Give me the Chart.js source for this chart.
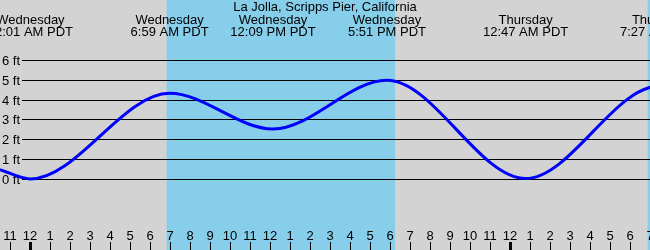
<!DOCTYPE html>
<html>
<head>
<meta charset="utf-8">
<script src="https://cdn.jsdelivr.net/npm/chart.js@4"></script>
<style>
  html, body { margin: 0; padding: 0; background: #d3d3d3; }
  #wrap { width: 650px; height: 250px; position: relative; }
</style>
</head>
<body>
<div id="wrap"><canvas id="tideChart"></canvas></div>
<script>
// hours from Wednesday 12 AM; first value is the level at the left edge, the rest are the highs and lows
// (last one is the Thursday afternoon low, just past the right edge)
const tideHours = [-1.5, 0.02, 6.98, 12.15, 17.85, 24.78, 31.45, 37.6];
const tideFeet  = [0.50, 0.03, 4.34, 2.54, 5.0, 0.05, 4.7, 2.7];

const eventDays  = ['Wednesday', 'Wednesday', 'Wednesday', 'Wednesday', 'Thursday', 'Thursday'];
const eventTimes = ['12:01 AM PDT', '6:59 AM PDT', '12:09 PM PDT', '5:51 PM PDT', '12:47 AM PDT', '7:27 AM PDT'];
const eventHours = [0.02, 6.98, 12.15, 17.85, 24.78, 31.45];

const daylightStart = [6.83, 30.88];
const daylightEnd   = [18.25, 42];

const feetTicks  = [0, 1, 2, 3, 4, 5, 6];
const feetLabels = ['0 ft', '1 ft', '2 ft', '3 ft', '4 ft', '5 ft', '6 ft'];

const hourTicks  = [-1, 0, 1, 2, 3, 4, 5, 6, 7, 8, 9, 10, 11, 12, 13, 14, 15, 16, 17, 18, 19, 20, 21, 22, 23, 24, 25, 26, 27, 28, 29, 30, 31];
const hourLabels = ['11', '12', '1', '2', '3', '4', '5', '6', '7', '8', '9', '10', '11', '12', '1', '2', '3', '4', '5', '6', '7', '8', '9', '10', '11', '12', '1', '2', '3', '4', '5', '6', '7'];
const midnightHours = [0, 24];

const title = 'La Jolla, Scripps Pier, California';
const FONT = '13px "Liberation Sans", Arial, sans-serif';

const tidePlugin = {
    id: 'tideDecor',
    beforeDatasetsDraw(chart) {
        const ctx = chart.ctx;
        const area = chart.chartArea;
        const xs = chart.scales.x;
        const ys = chart.scales.y;
        ctx.save();
        ctx.fillStyle = '#d3d3d3';
        ctx.fillRect(area.left, area.top, area.right - area.left, area.bottom - area.top);

        ctx.fillStyle = '#87ceeb';
        daylightStart.forEach((start, i) => {
            const x1 = Math.max(area.left, xs.getPixelForValue(start));
            const x2 = Math.min(area.right, xs.getPixelForValue(daylightEnd[i]));
            ctx.fillRect(x1, area.top, x2 - x1, area.bottom - area.top);
        });

        ctx.strokeStyle = '#000000';
        ctx.lineWidth = 1;
        ctx.fillStyle = '#000000';
        ctx.font = FONT;
        ctx.textAlign = 'left';
        ctx.textBaseline = 'alphabetic';
        feetTicks.forEach((v, i) => {
            const y = Math.floor(ys.getPixelForValue(v)) + 0.5;
            ctx.beginPath();
            ctx.moveTo(22, y);
            ctx.lineTo(area.right, y);
            ctx.stroke();
            ctx.fillText(feetLabels[i], 2, y + 4.5);
        });
        ctx.restore();
    },
    afterDatasetsDraw(chart) {
        const ctx = chart.ctx;
        const area = chart.chartArea;
        const xs = chart.scales.x;
        ctx.save();
        ctx.fillStyle = '#000000';
        ctx.font = FONT;
        ctx.textAlign = 'center';
        ctx.textBaseline = 'alphabetic';

        ctx.fillText(title, (area.left + area.right) / 2, 11);

        eventHours.forEach((h, i) => {
            const x = xs.getPixelForValue(h);
            ctx.fillText(eventDays[i], x, 24);
            ctx.fillText(eventTimes[i], x, 36);
        });

        hourTicks.forEach((h, i) => {
            const x = Math.round(xs.getPixelForValue(h));
            ctx.fillText(hourLabels[i], x, 240);
            if (midnightHours.includes(h)) {
                ctx.fillRect(x - 1, 242, 3, 8);
            } else {
                ctx.fillRect(x, 242, 1, 8);
            }
        });
        ctx.restore();
    }
};

new Chart(document.getElementById('tideChart'), {
    type: 'line',
    data: {
        datasets: [{
            data: tideHours.map((h, i) => ({ x: h, y: tideFeet[i] })),
            borderColor: '#0000ff',
            borderWidth: 3,
            pointRadius: 0,
            fill: false,
            cubicInterpolationMode: 'monotone'
        }]
    },
    options: {
        responsive: true,
        maintainAspectRatio: false,
        animation: false,
        layout: { padding: 0 },
        plugins: {
            legend: { display: false },
            tooltip: { enabled: false }
        },
        scales: {
            x: { type: 'linear', min: -1.5, max: 31, display: false },
            y: { type: 'linear', min: -3.55, max: 9.04, display: false }
        }
    },
    plugins: [tidePlugin]
});
</script>
</body>
</html>
